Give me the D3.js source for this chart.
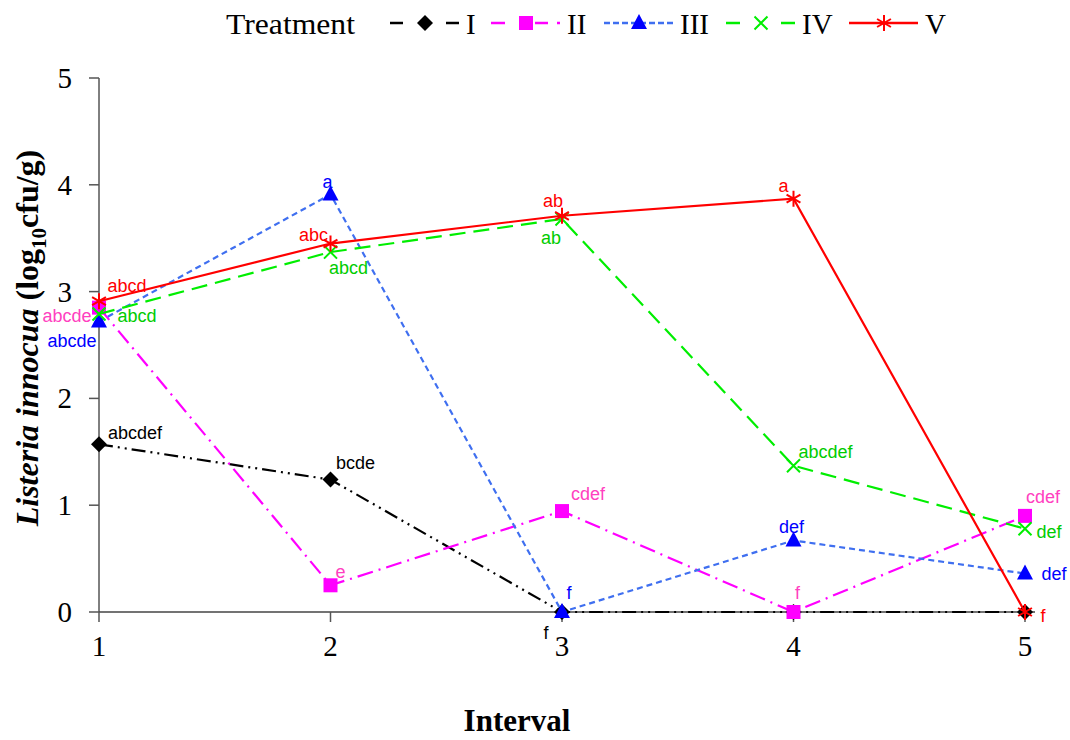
<!DOCTYPE html>
<html>
<head>
    <meta charset='utf-8'>
    <title>Listeria innocua</title>
    <script src='https://cdn.jsdelivr.net/npm/d3@7'></script>
    <style>
        body { margin: 0; background: #fff; }
    </style>
</head>
<body>
    <svg width='1070' height='740'></svg>
    <script>
        const intervals = [1, 2, 3, 4, 5]
        const yTicks = [0, 1, 2, 3, 4, 5]
        const seriesNames = ['I', 'II', 'III', 'IV', 'V']
        const valuesI = [1.57, 1.24, 0, 0, 0]
        const valuesII = [2.85, 0.25, 0.945, 0, 0.90]
        const valuesIII = [2.72, 3.91, 0, 0.67, 0.36]
        const valuesIV = [2.79, 3.37, 3.68, 1.37, 0.78]
        const valuesV = [2.91, 3.45, 3.71, 3.87, 0]
        const lettersI = ['abcdef', 'bcde', 'f', '', '']
        const lettersII = ['abcde', 'e', 'cdef', 'f', 'cdef']
        const lettersIII = ['abcde', 'a', 'f', 'def', 'def']
        const lettersIV = ['abcd', 'abcd', 'ab', 'abcdef', 'def']
        const lettersV = ['abcd', 'abc', 'ab', 'a', 'f']

        // label offsets from the point (centre of the text)
        const offsets = [
            [[36, -11], [25, -17], [-16, 21], [0, 0], [0, 0]],
            [[-32, 8], [10, -13], [26, -17], [4, -19], [18, -19]],
            [[-27, 19], [-3, -12], [7, -19], [-2, -13], [29, 0]],
            [[38, 2], [18, 16], [-11, 19], [32, -14], [24, 3]],
            [[28, -15], [-17, -9], [-9, -15], [-10, -13], [18, 4]]
        ]

        const styles = [
            { line: '#000000', mark: '#000000', text: '#000000', dash: '14,5,2,5,2,5', symbol: 'diamond' },
            { line: '#ff00ff', mark: '#ff00ff', text: '#ff40c0', dash: '16,6,2,6', symbol: 'square' },
            { line: '#3f6ff0', mark: '#0000ff', text: '#0000ff', dash: '6,4', symbol: 'triangle' },
            { line: '#00ee00', mark: '#00ee00', text: '#00cc00', dash: '16,8', symbol: 'times' },
            { line: '#ff0000', mark: '#ff0000', text: '#ff0000', dash: null, symbol: 'asterisk' }
        ]
        // legend line samples: segments [from, to] relative to the item start
        const legendSegs = [
            [[0, 13], [56, 69]],
            [[0, 14], [44, 57], [66, 69]],
            [[0, 69]],
            [[0, 14], [55, 69]],
            [[0, 69]]
        ]

        const allValues = [valuesI, valuesII, valuesIII, valuesIV, valuesV]
        const allLetters = [lettersI, lettersII, lettersIII, lettersIV, lettersV]

        const svg = d3.select('svg')
        const serif = "'Liberation Serif','Times New Roman',serif"
        const sans = "'Liberation Sans',Arial,sans-serif"

        const x = d3.scaleLinear().domain([1, 5]).range([99, 1025])
        const y = d3.scaleLinear().domain([0, 5]).range([612, 78])

        // axes
        svg.append('line').attr('x1', 99).attr('x2', 99).attr('y1', y(5)).attr('y2', y(0))
            .attr('stroke', '#000').attr('stroke-width', 1)
        svg.append('line').attr('x1', 99).attr('x2', 1035).attr('y1', y(0)).attr('y2', y(0))
            .attr('stroke', '#444').attr('stroke-width', 1.5)

        svg.selectAll('.ytick').data(yTicks).enter().append('line')
            .attr('x1', 89).attr('x2', 99).attr('y1', d => y(d)).attr('y2', d => y(d))
            .attr('stroke', '#555').attr('stroke-width', 1.5)
        svg.selectAll('.ylab').data(yTicks).enter().append('text')
            .attr('x', 72).attr('y', d => y(d) + 10)
            .attr('text-anchor', 'end').attr('font-family', serif).attr('font-size', 29)
            .text(d => d)

        svg.selectAll('.xtick').data(intervals).enter().append('line')
            .attr('x1', d => x(d)).attr('x2', d => x(d)).attr('y1', y(0)).attr('y2', y(0) + 10)
            .attr('stroke', '#555').attr('stroke-width', 1.5)
        svg.selectAll('.xlab').data(intervals).enter().append('text')
            .attr('x', d => x(d)).attr('y', 656)
            .attr('text-anchor', 'middle').attr('font-family', serif).attr('font-size', 29)
            .text(d => d)

        svg.append('text').attr('x', 517).attr('y', 731).attr('text-anchor', 'middle')
            .attr('font-family', serif).attr('font-size', 31).attr('font-weight', 'bold')
            .text('Interval')

        const ytitle = svg.append('text')
            .attr('transform', 'translate(38,338) rotate(-90)')
            .attr('text-anchor', 'middle').attr('font-family', serif).attr('font-size', 32)
            .attr('font-weight', 'bold')
        ytitle.append('tspan').attr('font-style', 'italic').text('Listeria innocua')
        ytitle.append('tspan').text(' (log')
        ytitle.append('tspan').attr('font-size', 21).attr('dy', 8).text('10')
        ytitle.append('tspan').attr('dy', -8).text('cfu/g)')

        // marker shapes
        function marker(g, type, color, cx, cy) {
            if (type === 'diamond') {
                const r = 8
                g.append('path').attr('d', `M${cx},${cy - r}L${cx + r},${cy}L${cx},${cy + r}L${cx - r},${cy}Z`)
                    .attr('fill', color)
            } else if (type === 'square') {
                g.append('rect').attr('x', cx - 7).attr('y', cy - 7).attr('width', 14).attr('height', 14)
                    .attr('fill', color)
            } else if (type === 'triangle') {
                g.append('path').attr('d', `M${cx},${cy - 9}L${cx + 8},${cy + 6}L${cx - 8},${cy + 6}Z`)
                    .attr('fill', color)
            } else if (type === 'times') {
                const r = 6.5
                g.append('path').attr('d', `M${cx - r},${cy - r}L${cx + r},${cy + r}M${cx - r},${cy + r}L${cx + r},${cy - r}`)
                    .attr('stroke', color).attr('stroke-width', 2).attr('fill', 'none')
            } else {
                const r = 8
                const a = r * Math.cos(Math.PI / 6), b = r * Math.sin(Math.PI / 6)
                g.append('path').attr('d', `M${cx},${cy - r}L${cx},${cy + r}M${cx - a},${cy - b}L${cx + a},${cy + b}M${cx - a},${cy + b}L${cx + a},${cy - b}`)
                    .attr('stroke', color).attr('stroke-width', 2).attr('fill', 'none')
            }
        }

        const line = d3.line().x((d, i) => x(intervals[i])).y(d => y(d))

        allValues.forEach((vals, si) => {
            const st = styles[si]
            const g = svg.append('g')
            g.append('path').datum(vals).attr('d', line)
                .attr('fill', 'none').attr('stroke', st.line).attr('stroke-width', 2.2)
                .attr('stroke-dasharray', st.dash)
            vals.forEach((v, i) => marker(g, st.symbol, st.mark, x(intervals[i]), y(v)))
        })

        allLetters.forEach((lets, si) => {
            const st = styles[si]
            svg.append('g').selectAll('text').data(lets).enter().append('text')
                .attr('x', (d, i) => x(intervals[i]) + offsets[si][i][0])
                .attr('y', (d, i) => y(allValues[si][i]) + offsets[si][i][1] + 6)
                .attr('text-anchor', 'middle').attr('font-family', sans).attr('font-size', 18)
                .attr('fill', st.text)
                .text(d => d)
        })

        // legend
        svg.append('text').attr('x', 226).attr('y', 34).attr('font-family', serif).attr('font-size', 29)
            .attr('textLength', 129).attr('lengthAdjust', 'spacingAndGlyphs')
            .text('Treatment')
        const legendX = [390, 491, 604, 726, 849]
        seriesNames.forEach((name, si) => {
            const st = styles[si]
            const g = svg.append('g')
            const x0 = legendX[si]
            legendSegs[si].forEach(s => {
                g.append('line').attr('x1', x0 + s[0]).attr('x2', x0 + s[1]).attr('y1', 23).attr('y2', 23)
                    .attr('stroke', st.line).attr('stroke-width', 2.5)
                    .attr('stroke-dasharray', si === 2 ? '6,3' : null)
            })
            marker(g, st.symbol, st.mark, x0 + 35, 23)
            g.append('text').attr('x', x0 + 76).attr('y', 34).attr('font-family', serif).attr('font-size', 29)
                .text(name)
        })
    </script>
</body>
</html>
